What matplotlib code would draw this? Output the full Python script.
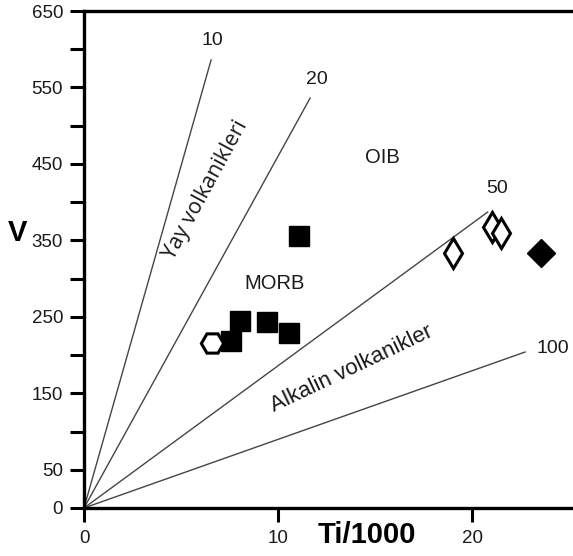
import matplotlib
matplotlib.use("Agg")
import matplotlib.pyplot as plt
from matplotlib.ticker import FixedLocator, NullFormatter

plt.rcParams["font.family"] = ["Liberation Sans", "DejaVu Sans"]

INK = "#1a1a1a"
LINE = "#454545"

# Ti/V ratio lines (from origin to end point)
ratio_labels = ["10", "20", "50", "100"]
line_end_ti = [6.55, 11.65, 20.8, 22.73]
line_end_v = [586, 536, 387, 204]
ratio_label_ti = [6.6, 12.0, 21.3, 24.15]
ratio_label_v = [612, 560, 418, 208]

# field names
field_names = ["OIB", "MORB"]
field_ti = [15.4, 9.8]
field_v = [458, 294]

# samples
sq_ti = [7.6, 8.05, 9.45, 10.55, 11.1]
sq_v = [218, 245, 243, 229, 356]
hex_ti = [6.6]
hex_v = [216]
odia_ti = [19.0, 21.0, 21.5]
odia_v = [333, 367, 360]
fdia_ti = [23.55]
fdia_v = [333]

y_major = [0, 50, 150, 250, 350, 450, 550, 650]
y_minor = [100, 200, 300, 400, 500, 600]
x_major = [0, 10, 20]

fig = plt.figure(figsize=(5.73, 5.56), dpi=100)
ax = fig.add_axes([84 / 573, 1 - 508 / 556, 1 - 84 / 573, 497 / 556])
ax.set_xlim(0, 25.2)
ax.set_ylim(0, 650)

for t_end, v_end in zip(line_end_ti, line_end_v):
    ax.plot([0, t_end], [0, v_end], color=LINE, linewidth=1.0, zorder=1)
for lab, t, v in zip(ratio_labels, ratio_label_ti, ratio_label_v):
    ax.text(t, v, lab, fontsize=14, color=INK, ha="center", va="center")
for lab, t, v in zip(field_names, field_ti, field_v):
    ax.text(t, v, lab, fontsize=14.5, color=INK, ha="center", va="center")

ax.text(6.25, 416, "Yay volkanikleri", fontsize=15.5, color=INK, rotation=61.5,
        ha="center", va="center", rotation_mode="anchor", family=["Open Sans", "DejaVu Sans"])
ax.text(13.8, 182, "Alkalin volkanikler", fontsize=16, color=INK, rotation=25.5,
        ha="center", va="center", rotation_mode="anchor")

ax.plot(sq_ti, sq_v, "s", color="black", markersize=14, linestyle="none", zorder=3)
ax.plot(hex_ti, hex_v, "H", markerfacecolor="white", markeredgecolor="black",
        markeredgewidth=2.2, markersize=16, linestyle="none", zorder=4)
ax.plot(odia_ti, odia_v, "d", markerfacecolor="white", markeredgecolor="black",
        markeredgewidth=2.2, markersize=15.5, linestyle="none", zorder=3)
ax.plot(fdia_ti, fdia_v, "D", color="black", markersize=14.5, linestyle="none", zorder=3)

for side in ["left", "bottom", "top"]:
    ax.spines[side].set_linewidth(2.4)
    ax.spines[side].set_color("black")
ax.spines["right"].set_visible(False)

ax.yaxis.set_major_locator(FixedLocator(y_major))
ax.yaxis.set_minor_locator(FixedLocator(y_minor))
ax.yaxis.set_minor_formatter(NullFormatter())
ax.xaxis.set_major_locator(FixedLocator(x_major))
ax.xaxis.set_minor_locator(FixedLocator([]))
ax.tick_params(axis="both", which="both", direction="out", length=10, width=2.2,
               colors="black", labelcolor=INK, labelsize=13.5, pad=5)
ax.tick_params(axis="x", which="major", pad=6)

fig.text(367 / 573, 1 - 535 / 556, "Ti/1000", fontsize=21, fontweight="bold",
         ha="center", va="center", color="black")
fig.text(17 / 573, 1 - 233 / 556, "V", fontsize=21, fontweight="bold",
         ha="center", va="center", color="black")

fig.savefig("out.png", dpi=100)
